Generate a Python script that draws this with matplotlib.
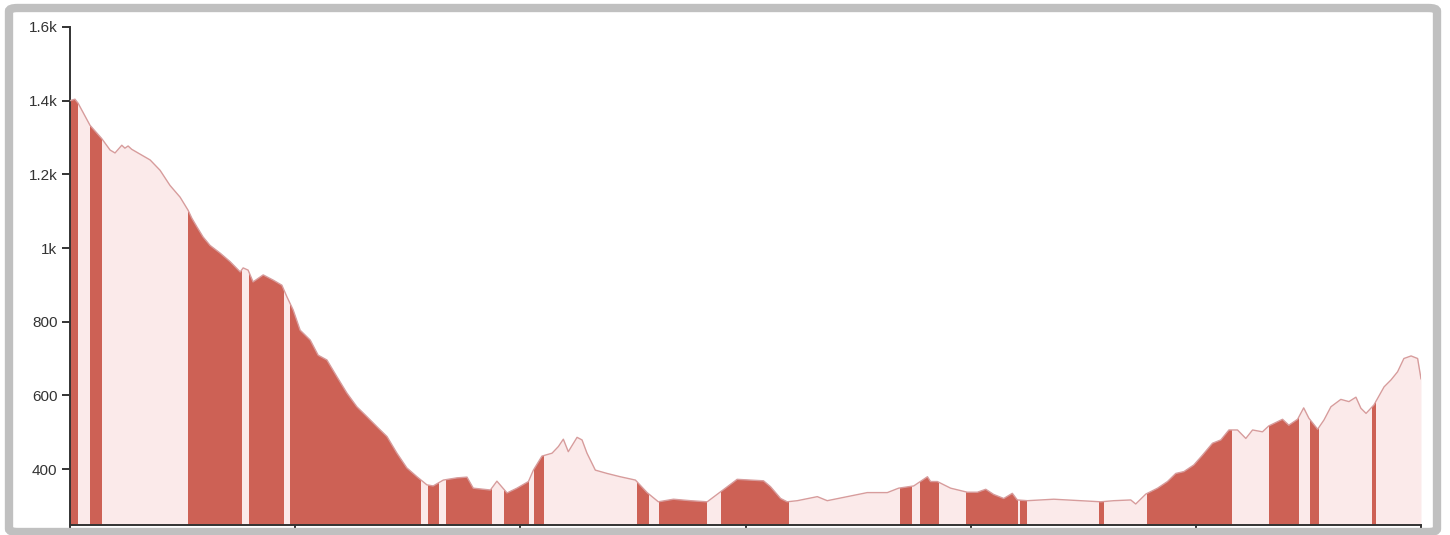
"""Elevation profile with climbing segments highlighted."""

import matplotlib
matplotlib.use("Agg")
import matplotlib.pyplot as plt
from matplotlib.patches import FancyBboxPatch
import numpy as np


# distance along the route (km) and elevation (m)
dist = [0.0, 0.22, 0.36, 0.89, 1.41, 1.78, 2.00, 2.30, 2.44, 2.58, 2.74, 3.19, 3.56,
        4.00, 4.44, 4.89, 5.24, 5.41, 5.63, 5.91, 6.22, 6.67, 7.11, 7.56, 7.69, 7.91,
        8.13, 8.58, 9.02, 9.41, 9.63, 9.91, 10.22, 10.67, 11.02, 11.41, 11.85, 12.30,
        12.74, 13.19, 13.63, 14.08, 14.52, 14.96, 15.41, 15.85, 16.13, 16.58, 17.19,
        17.63, 17.91, 18.67, 18.96, 19.41, 19.85, 20.36, 20.58, 20.96, 21.41, 21.69,
        21.91, 22.13, 22.52, 22.74, 22.96, 23.33, 23.85, 24.44, 25.11, 25.63, 26.13,
        26.80, 27.56, 28.30, 28.89, 29.63, 30.80, 31.11, 31.56, 31.85, 32.30, 33.19,
        33.63, 34.52, 35.41, 36.30, 36.80, 37.47, 38.08, 38.22, 38.52, 39.11, 39.85,
        40.30, 40.67, 41.02, 41.47, 41.85, 42.07, 42.52, 43.69, 44.89, 45.78, 46.36,
        47.11, 47.33, 47.78, 48.30, 48.74, 49.11, 49.47, 49.91, 50.30, 50.74, 51.11,
        51.47, 51.85, 52.22, 52.52, 52.96, 53.24, 53.85, 54.13, 54.52, 54.79, 55.02,
        55.41, 55.69, 56.00, 56.44, 56.80, 57.11, 57.33, 57.56, 57.91, 58.36, 58.67,
        58.96, 59.24, 59.56, 59.85, 60.0]
elev = [1400, 1404, 1393, 1333, 1297, 1266, 1258, 1279, 1271, 1277, 1268, 1252, 1239,
        1211, 1170, 1138, 1103, 1081, 1058, 1030, 1007, 986, 963, 935, 946, 940,
        908, 927, 913, 899, 868, 832, 777, 750, 709, 696, 651, 606,
        569, 542, 515, 488, 443, 403, 379, 357, 354, 370, 376,
        378, 348, 343, 367, 335, 348, 366, 397, 435, 443, 461,
        481, 447, 486, 479, 443, 397, 388, 379, 370, 336, 311,
        318, 314, 311, 338, 372, 368, 352, 320, 311, 314, 325,
        314, 325, 336, 336, 348, 354, 379, 366, 366, 348, 337,
        337, 345, 331, 320, 334, 316, 314, 318, 314, 311, 314,
        316, 305, 332, 348, 366, 388, 393, 411, 438, 470, 479,
        506, 506, 483, 506, 501, 517, 535, 519, 535, 566, 538,
        508, 533, 569, 589, 583, 595, 565, 551, 574, 623, 642,
        664, 700, 707, 700, 645]

# steep sections (start km, end km)
steep = [(0.0, 0.34), (0.89, 1.41), (5.26, 7.63), (7.97, 9.52), (9.78, 15.6),
         (15.91, 16.37), (16.71, 18.74), (19.26, 20.40), (20.59, 21.04),
         (25.16, 25.70), (26.15, 28.30), (28.89, 31.92), (36.86, 37.41),
         (37.73, 38.59), (39.81, 42.08), (42.19, 42.48), (45.68, 45.92),
         (47.81, 51.59), (53.26, 54.56), (55.07, 55.45), (57.81, 58.0)]

ytick_vals = [400, 600, 800, 1000, 1200, 1400, 1600]
ytick_lbls = ["400", "600", "800", "1k", "1.2k", "1.4k", "1.6k"]
xtick_vals = [0, 10, 20, 30, 40, 50, 60]

dark = "#cd6155"
light = "#fbeaea"
edge = "#d79c9c"
axcol = "#333333"
ymin = 248

plt.rcParams["font.family"] = ["Liberation Sans", "DejaVu Sans"]

fig = plt.figure(figsize=(14.5, 5.35), dpi=100)
ax = fig.add_axes([70 / 1450, 10 / 535, 1351 / 1450, 498 / 535])

# base area
fill = ax.fill_between(dist, elev, ymin, color=light, lw=0, zorder=1)
area = fill.get_paths()[0]

# steep sections, clipped to the profile
for s, e in steep:
    span = ax.axvspan(s, e, color=dark, lw=0, zorder=2)
    span.set_clip_path(area, fill.get_transform())

ax.plot(dist, elev, color=edge, lw=1.0, zorder=3)

ax.set_xlim(0, 60)
ax.set_ylim(ymin, 1600)
ax.set_yticks(ytick_vals)
ax.set_yticklabels(ytick_lbls)
ax.set_xticks(xtick_vals)
ax.set_xticklabels([])

for side in ("top", "right"):
    ax.spines[side].set_visible(False)
for side in ("left", "bottom"):
    ax.spines[side].set_color(axcol)
    ax.spines[side].set_linewidth(1.4)
ax.tick_params(axis="both", length=6, width=1.4, color=axcol)
ax.tick_params(axis="y", labelsize=11, labelcolor=axcol, pad=3)

# grey frame around the chart
frame = FancyBboxPatch((9 / 1450, 3 / 535), 1428 / 1450, 524 / 535,
                       boxstyle="round,pad=0,rounding_size=0.006",
                       transform=fig.transFigure, fill=False,
                       edgecolor="#c0c0c0", linewidth=6, zorder=10)
fig.patches.append(frame)

fig.savefig("out.png", dpi=100)
